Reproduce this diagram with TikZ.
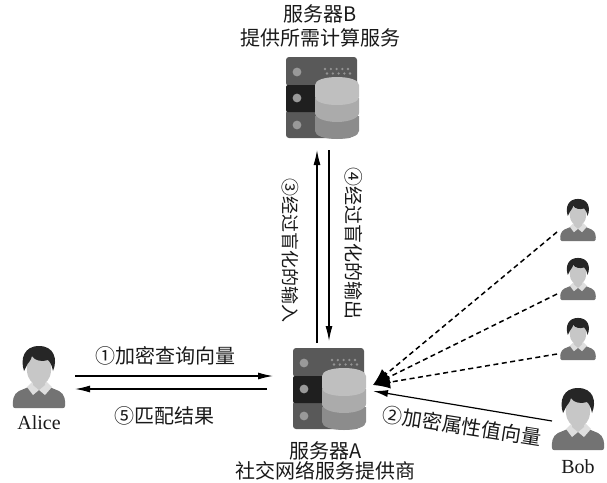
\documentclass[tikz,border=0pt]{standalone}
\usepackage{fontspec}
\setmainfont{Liberation Serif}
\newfontfamily\cjk{Noto Sans CJK SC}
\usetikzlibrary{arrows.meta}
\tikzset{
  iconbox/.style={inner sep=0pt,outer sep=0pt},
  lab/.style={font=\cjk\fontsize{20}{22}\selectfont,inner sep=0pt,text=black!90},
  latin/.style={font=\fontsize{20}{22}\selectfont,inner sep=0pt,text=black!90},
  flow/.style={line width=1.2pt,-{Latex[length=15pt,width=7pt]}},
  flowdash/.style={line width=1.5pt,dash pattern=on 5pt off 3.5pt,-{Latex[length=17pt,width=13pt]}},
}
\newcommand{\personicon}[3]{%
 \begin{scope}[shift={(#1,#2)},scale=#3]
  \fill[black!55] (-26,29) .. controls (-26.5,24) and (-26,17) .. (-20,14) -- (-8,9) -- (8,9) -- (20,14) .. controls (26,17) and (26.5,24) .. (26,29) .. controls (26,30.5) and (25,31) .. (24,31) -- (-24,31) .. controls (-25,31) and (-26,30.5) .. (-26,29) -- cycle;
  \fill[black!13] (-12,10) -- (-6,18) -- (0,13) -- (6,18) -- (13,10) -- (8,5) -- (-7,5) -- cycle;
  \fill[black!22] (-12,-14) .. controls (-13,-2) and (-10,3) .. (-6,6) -- (-6,8) -- (0,13) -- (6,8) -- (6,6) .. controls (10,3) and (13,-2) .. (12,-14) -- (10,-22) -- (-10,-22) -- cycle;
  \fill[black!85] (-15,-6) .. controls (-19,-18) and (-15,-31) .. (0,-31) .. controls (15,-31) and (19,-18) .. (14,-6) .. controls (13,-12) and (11,-15) .. (9,-17) .. controls (3,-15) and (-4,-16) .. (-7,-21) .. controls (-8,-16) and (-12,-13) .. (-12,-12) -- cycle;
 \end{scope}}
\newcommand{\servericon}[2]{%
 \begin{scope}[shift={(#1,#2)}]
  \fill[black!65,rounded corners=3pt] (-36,-41) rectangle (35,-12);
  \fill[black!65,rounded corners=3pt] (-36,12) rectangle (30,40);
  \fill[black!88,rounded corners=2pt] (-36,-13) rectangle (10,14);
  \foreach \yy in {-26,0,27}{\fill[black!40] (-25,\yy) circle (4.4);}
  \foreach \xx in {3,8.8,14.6,20.4,26}{\fill[black!42] (\xx,-29) circle (1.3);\fill[black!42] (\xx+2,-24.5) circle (1.3);}
  \fill[black!45] (-7,18) -- (37,18) -- (37,33) .. controls (37,38) and (27,41) .. (15,41) .. controls (3,41) and (-7,38) .. (-7,33) -- cycle;
  \fill[black!33] (-7,0) -- (37,0) -- (37,15) .. controls (37,20) and (27,24) .. (15,24) .. controls (3,24) and (-7,20) .. (-7,15) -- cycle;
  \fill[black!25] (-7,-13) .. controls (-7,-18) and (3,-21) .. (15,-21) .. controls (27,-21) and (37,-18) .. (37,-13) -- (37,-1) .. controls (37,4) and (27,7) .. (15,7) .. controls (3,7) and (-7,4) .. (-7,-1) -- cycle;
 \end{scope}}
\begin{document}
\begin{tikzpicture}[x=1pt,y=-1pt]
\useasboundingbox (0,0) rectangle (607,482);
\servericon{322}{98}
\servericon{329}{389}
\personicon{39}{377}{1}
\personicon{578}{220}{0.68}
\personicon{578}{279}{0.68}
\personicon{578}{339}{0.68}
\personicon{578}{419}{1}
\node[iconbox,minimum width=74pt,minimum height=82pt] (serverB) at (322,98) {};
\node[iconbox,minimum width=74pt,minimum height=82pt] (serverA) at (329,389) {};
\node[iconbox,minimum width=52pt,minimum height=62pt] (alice) at (39,377) {};
\node[iconbox,minimum width=36pt,minimum height=42pt] (u1) at (578,220) {};
\node[iconbox,minimum width=36pt,minimum height=42pt] (u2) at (578,279) {};
\node[iconbox,minimum width=36pt,minimum height=42pt] (u3) at (578,339) {};
\node[iconbox,minimum width=52pt,minimum height=62pt] (bob) at (578,419) {};
\coordinate (hub) at (373,385);
\coordinate (hubb) at (373,391);
% vertical
\draw[flow] ([xshift=-12pt,yshift=5pt]serverA.north) -- ([xshift=-5pt,yshift=-11pt]serverB.south);
\draw[flow] ([xshift=7pt,yshift=-11pt]serverB.south) -- ([xshift=0pt,yshift=7pt]serverA.north);
% horizontal
\draw[flow] ([yshift=1pt,xshift=10pt]alice.east) -- ([yshift=13pt,xshift=-19pt]serverA.west);
\draw[flow] ([yshift=0pt,xshift=-25pt]serverA.west) -- ([yshift=-12pt,xshift=10pt]alice.east);
% dashed
\draw[flowdash] ([xshift=-3pt,yshift=9pt]u1.south west) -- (hub);
\draw[flowdash] ([xshift=-3pt,yshift=-15pt]u2.west) -- (hub);
\draw[flowdash] ([xshift=-3pt,yshift=-15pt]u3.west) -- (hub);
\draw[flow] ([yshift=-2pt]bob.west) -- (hubb);
% labels
\node[lab] (t1) at (320,14) {服务器B};
\node[lab] (t2) at (320,38) {提供所需计算服务};
\node[lab,font=\cjk\fontsize{18}{20}\selectfont,rotate=-90] (t3) at (290,250) {③经过盲化的输入};
\node[lab,font=\cjk\fontsize{19}{21}\selectfont,rotate=-90] (t4) at (354,243) {④经过盲化的输出};
\node[lab] (t5) at (165,356) {①加密查询向量};
\node[lab] (t6) at (164,416) {⑤匹配结果};
\node[lab,rotate=-9] (t7) at (462,426) {②加密属性值向量};
\node[lab] (t8) at (326,451) {服务器A};
\node[lab] (t9) at (325,471) {社交网络服务提供商};
\node[latin] (t10) at (39,423) {Alice};
\node[latin] (t11) at (578,467) {Bob};
\end{tikzpicture}
\end{document}
